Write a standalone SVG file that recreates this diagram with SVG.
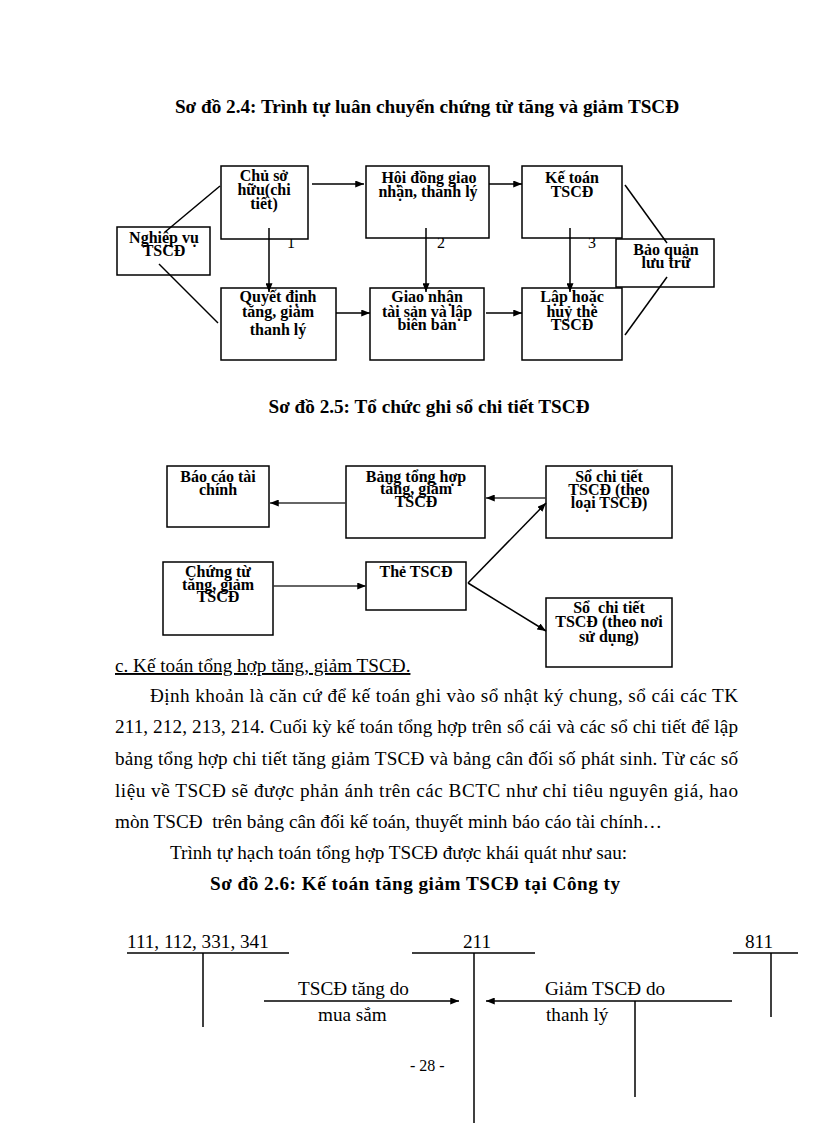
<svg xmlns="http://www.w3.org/2000/svg" width="816" height="1123" viewBox="0 0 816 1123">
<defs>
<marker id="ah" viewBox="0 0 10 8" refX="10" refY="4" markerWidth="9" markerHeight="7" markerUnits="userSpaceOnUse" orient="auto">
<path d="M0,0 L10,4 L0,8 Z" fill="#000"/>
</marker>
<style>
text{font-family:"Liberation Serif","Times New Roman",serif;fill:#000}
.t{font-size:19.2px;font-weight:bold;text-anchor:middle}
.b{font-size:16px;font-weight:bold;text-anchor:middle}
.p{font-size:19.2px}
.n{font-size:16px}
.box{fill:#fff;stroke:#000;stroke-width:1.5}
.c{stroke:#000;stroke-width:1.5;fill:none}
.g{stroke:#333;stroke-width:1.3;fill:none}
.a{marker-end:url(#ah)}
</style>
</defs>
<rect width="816" height="1123" fill="#fff"/>

<!-- Diagram 2.4 -->
<text class="t" x="427" y="113">Sơ đồ 2.4: Trình tự luân chuyển chứng từ tăng và giảm TSCĐ</text>

<g id="labels24">
<text class="n" x="287" y="248">1</text>
<text class="n" x="437" y="248">2</text>
<text class="n" x="588" y="248">3</text>
</g>

<g id="n-nghiepvu"><rect class="box" x="117" y="227" width="93" height="48"/>
<text class="b" x="164" y="243">Nghiệp vụ</text><text class="b" x="164" y="256">TSCĐ</text></g>
<g id="n-chusohuu"><rect class="box" x="221" y="166" width="87" height="73"/>
<text class="b" x="264" y="181">Chủ sở</text><text class="b" x="264" y="195">hữu(chi</text><text class="b" x="264" y="209">tiết)</text></g>
<g id="n-quyetdinh"><rect class="box" x="221" y="288" width="115" height="72"/>
<text class="b" x="278" y="302">Quyết định</text><text class="b" x="278" y="317">tăng, giảm</text><text class="b" x="278" y="335">thanh lý</text></g>
<g id="n-hoidong"><rect class="box" x="366" y="166" width="123" height="72"/>
<text class="b" x="429" y="183">Hội đồng giao</text><text class="b" x="428" y="197">nhận, thanh lý</text></g>
<g id="n-ketoan"><rect class="box" x="522" y="166" width="100" height="72"/>
<text class="b" x="572" y="183">Kế toán</text><text class="b" x="572" y="197">TSCĐ</text></g>
<g id="n-baoquan"><rect class="box" x="616" y="239" width="98" height="48"/>
<text class="b" x="666" y="255">Bảo quản</text><text class="b" x="666" y="268">lưu trữ</text></g>
<g id="n-giaonhan"><rect class="box" x="370" y="288" width="114" height="72"/>
<text class="b" x="427" y="302">Giao nhận</text><text class="b" x="427" y="317">tài sản và lập</text><text class="b" x="427" y="330">biên bản</text></g>
<g id="n-lapthe"><rect class="box" x="522" y="288" width="100" height="72"/>
<text class="b" x="572" y="302">Lập hoặc</text><text class="b" x="572" y="317">huỷ thẻ</text><text class="b" x="572" y="330">TSCĐ</text></g>

<g id="connectors24">
<line class="c a" x1="312" y1="184" x2="364" y2="184"/>
<line class="c a" x1="489" y1="184" x2="522" y2="184"/>
<line class="c a" x1="336" y1="313" x2="370" y2="313"/>
<line class="c a" x1="486" y1="313" x2="522" y2="313"/>
<line class="c a" x1="269" y1="228" x2="269" y2="292"/>
<line class="c a" x1="426" y1="228" x2="426" y2="292"/>
<line class="c a" x1="570" y1="228" x2="570" y2="292"/>
<line class="c" x1="165" y1="232" x2="220" y2="186"/>
<line class="c" x1="159" y1="264" x2="218" y2="323"/>
<line class="c" x1="625" y1="185" x2="667" y2="243"/>
<line class="c" x1="625" y1="335" x2="667" y2="277"/>
</g>

<!-- Diagram 2.5 -->
<text class="t" x="429" y="413">Sơ đồ 2.5: Tổ chức ghi sổ chi tiết TSCĐ</text>

<g id="n-baocao"><rect class="box" x="167" y="466" width="102" height="61"/>
<text class="b" x="218" y="482">Báo cáo tài</text><text class="b" x="218" y="495">chính</text></g>
<g id="n-bangtonghop"><rect class="box" x="346" y="466" width="139" height="72"/>
<text class="b" x="416" y="482">Bảng tổng hợp</text><text class="b" x="416" y="494">tăng, giảm</text><text class="b" x="416" y="507">TSCĐ</text></g>
<g id="n-soloai"><rect class="box" x="546" y="466" width="126" height="72"/>
<text class="b" x="609" y="482">Sổ chi tiết</text><text class="b" x="609" y="495">TSCĐ (theo</text><text class="b" x="609" y="508">loại TSCĐ)</text></g>
<g id="n-chungtu"><rect class="box" x="163" y="562" width="110" height="73"/>
<text class="b" x="218" y="577">Chứng từ</text><text class="b" x="218" y="590">tăng, giảm</text><text class="b" x="218" y="602">TSCĐ</text></g>
<g id="n-the"><rect class="box" x="366" y="562" width="100" height="48"/>
<text class="b" x="416" y="577">Thẻ TSCĐ</text></g>
<g id="n-sonoi"><rect class="box" x="546" y="598" width="126" height="69"/>
<text class="b" x="609" y="613" xml:space="preserve">Sổ  chi tiết</text><text class="b" x="609" y="627">TSCĐ (theo nơi</text><text class="b" x="609" y="642">sử dụng)</text></g>

<g id="connectors25">
<line class="g a" x1="346" y1="503" x2="270" y2="503"/>
<line class="g a" x1="546" y1="498" x2="486" y2="498"/>
<line class="g a" x1="273" y1="586" x2="366" y2="586"/>
<line class="c a" x1="468" y1="583" x2="546" y2="503"/>
<line class="c a" x1="468" y1="583" x2="546" y2="631"/>
</g>

<!-- Text -->
<g id="paragraph">
<text class="p" x="115" y="672" text-decoration="underline">c. Kế toán tổng hợp tăng, giảm TSCĐ.</text>
<text class="p" x="150" y="702" textLength="588" lengthAdjust="spacing">Định khoản là căn cứ để kế toán ghi vào sổ nhật ký chung, sổ cái các TK</text>
<text class="p" x="115" y="733" textLength="623" lengthAdjust="spacing">211, 212, 213, 214. Cuối kỳ kế toán tổng hợp trên sổ cái và các sổ chi tiết để lập</text>
<text class="p" x="115" y="765" textLength="623" lengthAdjust="spacing">bảng tổng hợp chi tiết tăng giảm TSCĐ và bảng cân đối số phát sinh. Từ các số</text>
<text class="p" x="115" y="797" textLength="623" lengthAdjust="spacing">liệu về TSCĐ sẽ được phản ánh trên các BCTC như chỉ tiêu nguyên giá, hao</text>
<text class="p" x="115" y="828" xml:space="preserve">mòn TSCĐ  trên bảng cân đối kế toán, thuyết minh báo cáo tài chính…</text>
<text class="p" x="170" y="859">Trình tự hạch toán tổng hợp TSCĐ được khái quát như sau:</text>
</g>

<!-- Diagram 2.6 -->
<text class="t" x="415" y="890" textLength="410" lengthAdjust="spacing">Sơ đồ 2.6: Kế toán tăng giảm TSCĐ tại Công ty</text>

<g id="n-tk111">
<text class="p" x="127" y="948">111, 112, 331, 341</text>
<line class="c" x1="127" y1="953" x2="289" y2="953"/>
<line class="c" x1="203" y1="953" x2="203" y2="1027"/>
</g>
<g id="n-tk211">
<text class="p" x="463" y="948">211</text>
<line class="c" x1="412" y1="953" x2="535" y2="953"/>
<line class="c" x1="474" y1="953" x2="474" y2="1123"/>
</g>
<g id="n-tk811">
<text class="p" x="745" y="948">811</text>
<line class="c" x1="733" y1="953" x2="798" y2="953"/>
<line class="c" x1="771" y1="953" x2="771" y2="1017"/>
</g>

<g id="connectors26">
<line class="c a" x1="264" y1="1001" x2="459" y2="1001"/>
<line class="c a" x1="732" y1="1001" x2="486" y2="1001"/>
<line class="c" x1="635" y1="1001" x2="635" y2="1097"/>
<text class="p" x="298" y="995">TSCĐ tăng do</text>
<text class="p" x="318" y="1021">mua sắm</text>
<text class="p" x="545" y="995">Giảm TSCĐ do</text>
<text class="p" x="546" y="1021">thanh lý</text>
</g>

<text class="n" x="410" y="1071">- 28 -</text>
</svg>
